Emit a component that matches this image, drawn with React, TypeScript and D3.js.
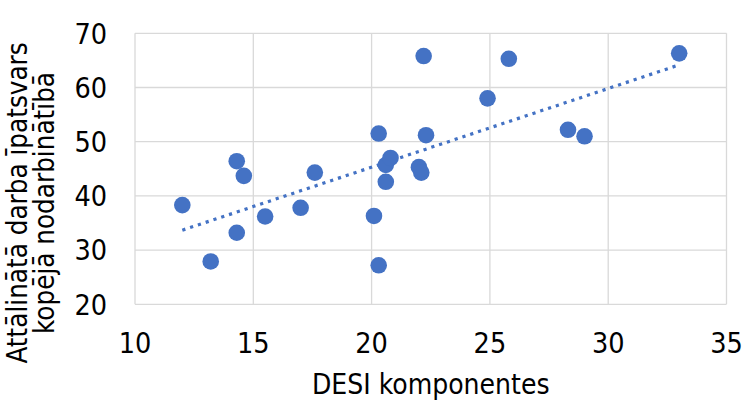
import React, { useEffect, useRef } from 'react';
import * as d3 from 'd3';

// DESI component score vs. share of remote work in total employment
const desi = [12.0, 13.2, 14.3, 14.6, 14.3, 15.5, 17.0, 17.6, 20.1, 20.3, 20.3, 20.6, 20.8, 20.6, 22.0, 22.1, 22.2, 22.3, 24.9, 25.8, 28.3, 29.0, 33.0];
const remoteShare = [38.3, 27.9, 46.4, 43.7, 33.2, 36.2, 37.8, 44.3, 36.3, 27.2, 51.5, 45.7, 47.0, 42.6, 45.3, 44.3, 65.8, 51.2, 58.0, 65.3, 52.2, 51.0, 66.3];

const xTicks = [10, 15, 20, 25, 30, 35];
const yTicks = [20, 30, 40, 50, 60, 70];
const xTitle = 'DESI komponentes';
const yTitleLines = ['Attālinātā darba īpatsvars', 'kopējā nodarbinātībā'];

const FONT = '"DejaVu Sans", Verdana, sans-serif';

function App() {
  const ref = useRef<SVGSVGElement>(null);
  const width = 750;
  const height = 402;

  useEffect(() => {
    const svg = d3.select(ref.current);
    svg.selectAll('*').remove();

    const x = d3.scaleLinear().domain([10, 35]).range([135, 726.5]);
    const y = d3.scaleLinear().domain([20, 70]).range([304.3, 33.3]);

    const g = svg.append('g');

    // grid
    g.selectAll('line.vgrid')
      .data(xTicks)
      .join('line')
      .attr('x1', d => x(d)).attr('x2', d => x(d))
      .attr('y1', y(70)).attr('y2', y(20))
      .attr('stroke', '#d9d9d9')
      .attr('stroke-width', 1.3);

    g.selectAll('line.hgrid')
      .data(yTicks)
      .join('line')
      .attr('x1', x(10)).attr('x2', x(35))
      .attr('y1', d => y(d)).attr('y2', d => y(d))
      .attr('stroke', '#d9d9d9')
      .attr('stroke-width', 1.3);

    // tick labels
    g.selectAll('text.xt')
      .data(xTicks)
      .join('text')
      .attr('x', d => x(d))
      .attr('y', 352.7)
      .attr('text-anchor', 'middle')
      .attr('font-family', FONT)
      .attr('font-stretch', 'condensed')
      .attr('font-size', 28.5)
      .attr('fill', '#000')
      .text(d => d);

    g.selectAll('text.yt')
      .data(yTicks)
      .join('text')
      .attr('x', 107)
      .attr('y', d => y(d) + 10.3)
      .attr('text-anchor', 'end')
      .attr('font-family', FONT)
      .attr('font-stretch', 'condensed')
      .attr('font-size', 28.5)
      .attr('fill', '#000')
      .text(d => d);

    // axis titles, centred on the plot area
    g.append('text')
      .attr('x', (x(10) + x(35)) / 2)
      .attr('y', 394.3)
      .attr('text-anchor', 'middle')
      .attr('font-family', FONT)
      .attr('font-stretch', 'condensed')
      .attr('font-size', 28)
      .attr('fill', '#000')
      .text(xTitle);

    const yTitle = g.append('text')
      .attr('transform', 'translate(0, 203) rotate(-90)')
      .attr('text-anchor', 'middle')
      .attr('font-family', FONT)
      .attr('font-stretch', 'condensed')
      .attr('font-size', 27.5)
      .attr('fill', '#000');
    yTitle.selectAll('tspan')
      .data(yTitleLines)
      .join('tspan')
      .attr('x', 0)
      .attr('y', (_, i) => 26.7 + i * 27)
      .text(d => d);

    // linear trendline (least squares)
    const n = desi.length;
    const mx = d3.mean(desi) as number;
    const my = d3.mean(remoteShare) as number;
    let sxy = 0;
    let sxx = 0;
    for (let i = 0; i < n; i++) {
      sxy += (desi[i] - mx) * (remoteShare[i] - my);
      sxx += (desi[i] - mx) ** 2;
    }
    const slope = sxy / sxx;
    const intercept = my - slope * mx;
    const [x0, x1] = d3.extent(desi) as [number, number];

    g.append('line')
      .attr('x1', x(x0)).attr('y1', y(intercept + slope * x0))
      .attr('x2', x(x1)).attr('y2', y(intercept + slope * x1))
      .attr('stroke', '#4472c4')
      .attr('stroke-width', 3.2)
      .attr('stroke-dasharray', '3.2 5')
      .attr('stroke-linecap', 'butt');

    // points
    g.selectAll('circle')
      .data(desi)
      .join('circle')
      .attr('cx', d => x(d))
      .attr('cy', (_, i) => y(remoteShare[i]))
      .attr('r', 8.3)
      .attr('fill', '#4472c4');
  }, []);

  return (
    <svg
      ref={ref}
      width={width}
      height={height}
      style={{ position: 'absolute', left: 0, top: 0, background: '#fff' }}
    />
  );
}

export default App;
